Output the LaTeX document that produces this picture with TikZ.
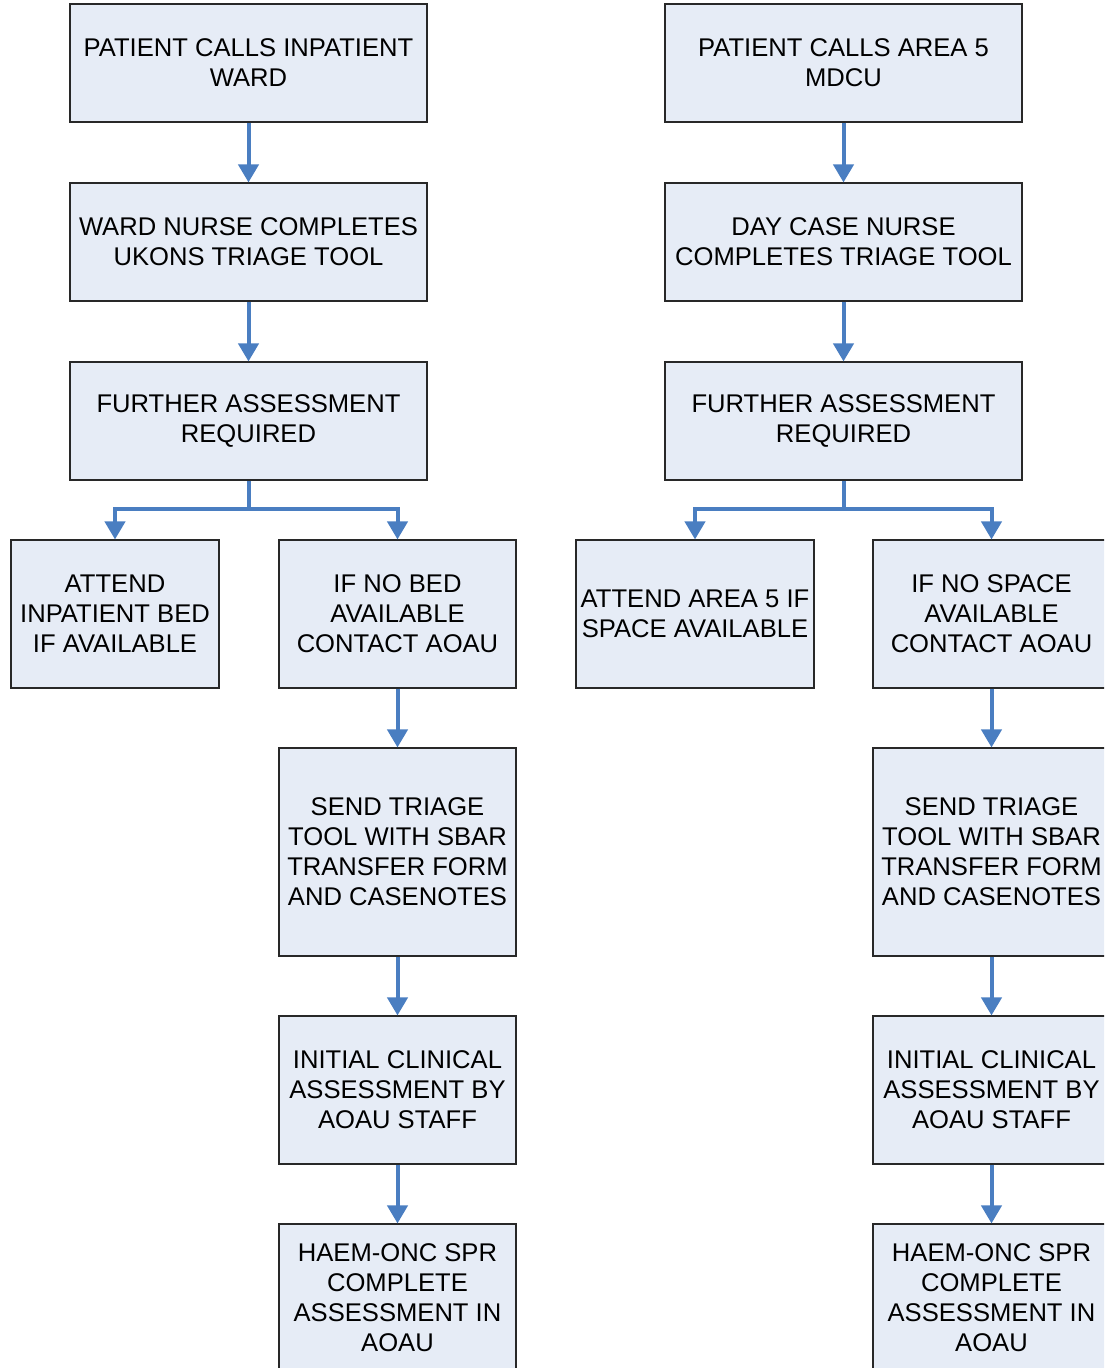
\documentclass[tikz,border=0pt]{standalone}
\usepackage{fontspec}
\setmainfont{Liberation Sans}
\usetikzlibrary{arrows.meta}
\definecolor{boxfill}{RGB}{230,236,246}
\definecolor{boxline}{RGB}{40,40,40}
\definecolor{arrowblue}{RGB}{74,126,193}
\tikzset{
  box/.style={draw=boxline, line width=0.8pt, fill=boxfill, align=center, inner sep=0pt,
    font=\fontsize{19.2}{22.5}\selectfont},
  wide/.style={minimum width=267.75pt, minimum height=88.5pt},
  narrow/.style={minimum width=177.75pt, minimum height=111pt},
  flow/.style={draw=arrowblue, line width=3pt, -{Triangle[width=15pt,length=13.5pt]}},
}
\begin{document}
\begin{tikzpicture}[x=0.75pt,y=-0.75pt]
\clip (0,0) rectangle (1104,1368);
\useasboundingbox (0,0) rectangle (1104,1368);
% left column
\node[box,wide] (B1) at (248.5,63) {PATIENT CALLS INPATIENT\\WARD};
\node[box,wide] (B2) at (248.5,242) {WARD NURSE COMPLETES\\UKONS TRIAGE TOOL};
\node[box,wide] (B3) at (248.5,421) {FURTHER ASSESSMENT\\REQUIRED};
\node[box,minimum width=156pt,minimum height=111pt] (B4) at (115,614) {ATTEND\\INPATIENT BED\\IF AVAILABLE};
\node[box,narrow] (B5) at (397.5,614) {IF NO BED\\AVAILABLE\\CONTACT AOAU};
\node[box,minimum width=177.75pt,minimum height=156pt] (B6) at (397.5,852) {SEND TRIAGE\\TOOL WITH SBAR\\TRANSFER FORM\\AND CASENOTES};
\node[box,narrow] (B7) at (397.5,1090) {INITIAL CLINICAL\\ASSESSMENT BY\\AOAU STAFF};
\node[box,narrow] (B8) at (397.5,1298) {HAEM-ONC SPR\\COMPLETE\\ASSESSMENT IN\\AOAU};
% right column
\node[box,wide] (R1) at (843.5,63) {PATIENT CALLS AREA 5\\MDCU};
\node[box,wide] (R2) at (843.5,242) {DAY CASE NURSE\\COMPLETES TRIAGE TOOL};
\node[box,wide] (R3) at (843.5,421) {FURTHER ASSESSMENT\\REQUIRED};
\node[box,minimum width=178.5pt,minimum height=111pt] (R4) at (695,614) {ATTEND AREA 5 IF\\SPACE AVAILABLE};
\node[box,narrow] (R5) at (991.5,614) {IF NO SPACE\\AVAILABLE\\CONTACT AOAU};
\node[box,minimum width=177.75pt,minimum height=156pt] (R6) at (991.5,852) {SEND TRIAGE\\TOOL WITH SBAR\\TRANSFER FORM\\AND CASENOTES};
\node[box,narrow] (R7) at (991.5,1090) {INITIAL CLINICAL\\ASSESSMENT BY\\AOAU STAFF};
\node[box,narrow] (R8) at (991.5,1298) {HAEM-ONC SPR\\COMPLETE\\ASSESSMENT IN\\AOAU};
% junctions
\coordinate (jL) at (248.5,509);
\coordinate (jR) at (843.5,509);
% connectors left
\draw[flow] (B1.south) -- (B2.north);
\draw[flow] (B2.south) -- (B3.north);
\draw[flow] (B3.south) -- (jL) -| (B4.north);
\draw[flow] (jL) -| (B5.north);
\draw[flow] (B5.south) -- (B6.north);
\draw[flow] (B6.south) -- (B7.north);
\draw[flow] (B7.south) -- (B8.north);
% connectors right
\draw[flow] (R1.south) -- (R2.north);
\draw[flow] (R2.south) -- (R3.north);
\draw[flow] (R3.south) -- (jR) -| (R4.north);
\draw[flow] (jR) -| (R5.north);
\draw[flow] (R5.south) -- (R6.north);
\draw[flow] (R6.south) -- (R7.north);
\draw[flow] (R7.south) -- (R8.north);
\end{tikzpicture}
\end{document}
